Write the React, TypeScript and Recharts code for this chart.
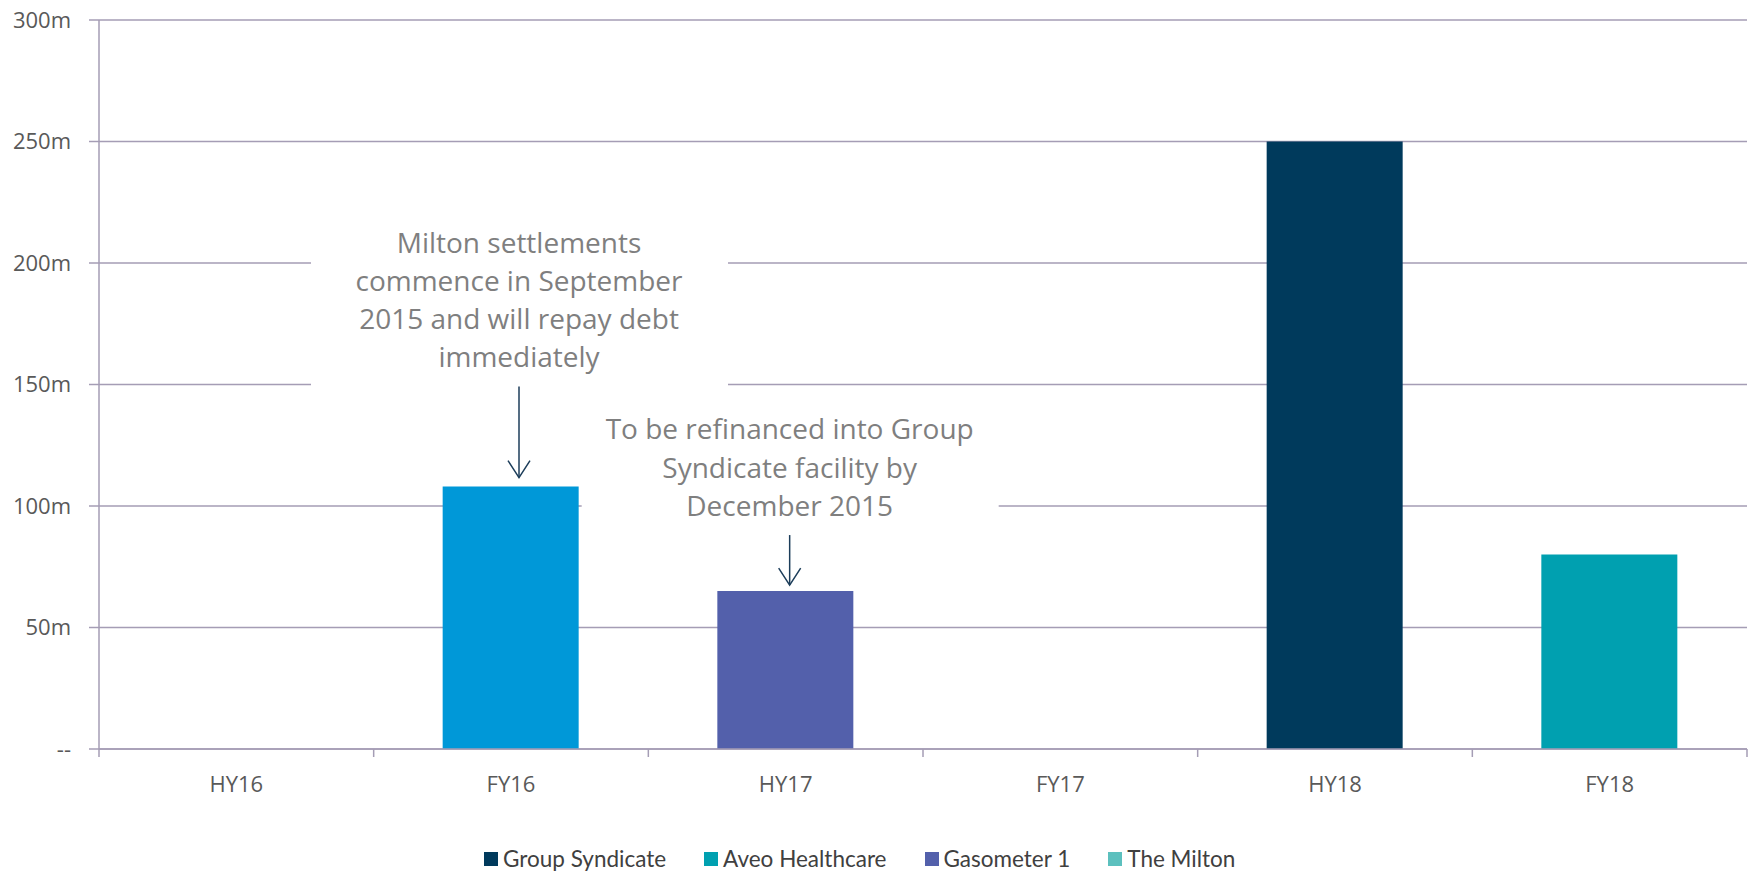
import React from "react";
import {
  Bar,
  BarChart,
  CartesianGrid,
  Cell,
  ReferenceDot,
  XAxis,
  YAxis,
} from "recharts";

const GRID = "#A59DB5";
const TICK_INK = "#595959";
const NOTE_INK = "#7F7F7F";
const ARROW = "#1C3D5A";
const FONT = "'Open Sans', 'Segoe UI', sans-serif";

// periods and the debt maturing in each (A$m)
const periods = ["HY16", "FY16", "HY17", "FY17", "HY18", "FY18"];
const maturing = [0, 108, 65, 0, 250, 80];
const facility = ["", "The Milton", "Gasometer 1", "", "Group Syndicate", "Aveo Healthcare"];

const seriesNames = ["Group Syndicate", "Aveo Healthcare", "Gasometer 1", "The Milton"];
const yTicks = [0, 50, 100, 150, 200, 250, 300];

const miltonNote = ["Milton settlements", "commence in September", "2015 and will repay debt", "immediately"];
const gasometerNote = ["To be refinanced into Group", "Syndicate facility by", "December 2015"];

const LEGEND_COLORS: Record<string, string> = {
  "Group Syndicate": "#003A5C",
  "Aveo Healthcare": "#00A0B0",
  "Gasometer 1": "#5360AB",
  "The Milton": "#5CC0BE",
};
// the Milton bar is drawn in a brighter blue than its legend key in the original
const BAR_COLORS: Record<string, string> = {
  ...LEGEND_COLORS,
  "The Milton": "#0098D8",
};

const data = periods.map((p, i) => ({ period: p, value: maturing[i], facility: facility[i] }));

// category label plus the little tick marks that sit between categories
function PeriodTick(props: any) {
  const { x, y, payload, index, width, visibleTicksCount } = props;
  const count = visibleTicksCount || periods.length;
  const band = (width || 1648) / count;
  const left = x - band / 2;
  const right = x + band / 2;
  return (
    <g>
      <line x1={left} y1={y} x2={left} y2={y + 8} stroke={GRID} strokeWidth={1.5} />
      {index === count - 1 && <line x1={right} y1={y} x2={right} y2={y + 8} stroke={GRID} strokeWidth={1.5} />}
      <text x={x} y={y + 27} dy="0.71em" textAnchor="middle" fontFamily={FONT} fontSize={22} fill={TICK_INK}>
        {payload.value}
      </text>
    </g>
  );
}

type NoteLayout = {
  lines: string[];
  dx: number;
  gap: number;
  arrowLen: number;
  firstBaseline: number;
  lineHeight: number;
  boxTop: number;
  boxBottom: number;
};

function noteShape(n: NoteLayout) {
  return (props: any) => {
    const { cx, cy } = props;
    if (cx == null || cy == null) return <g />;
    const x = cx + n.dx;
    const tip = cy - n.gap;
    return (
      <g>
        <rect x={x - 208} y={cy + n.boxTop} width={417} height={n.boxBottom - n.boxTop} fill="#fff" />
        {n.lines.map((l, i) => (
          <text
            key={l}
            x={x}
            y={cy + n.firstBaseline + i * n.lineHeight}
            textAnchor="middle"
            fontFamily={FONT}
            fontSize={28}
            fill={NOTE_INK}
          >
            {l}
          </text>
        ))}
        <line x1={x} y1={tip - n.arrowLen} x2={x} y2={tip} stroke={ARROW} strokeWidth={1.5} />
        <polyline
          points={`${x - 11},${tip - 17} ${x},${tip} ${x + 11},${tip - 17}`}
          fill="none"
          stroke={ARROW}
          strokeWidth={1.5}
        />
      </g>
    );
  };
}

function LegendRow() {
  return (
    <div
      style={{
        position: "absolute",
        left: 484,
        top: 846,
        display: "flex",
        gap: 38,
        fontFamily: "Lato, sans-serif",
        fontSize: 22.5,
        color: "#404040",
        lineHeight: "26px",
        whiteSpace: "nowrap",
      }}
    >
      {seriesNames.map((s) => (
        <div key={s} style={{ display: "flex", alignItems: "center", gap: 5 }}>
          <span style={{ width: 14, height: 14, background: LEGEND_COLORS[s], display: "inline-block" }} />
          <span>{s}</span>
        </div>
      ))}
    </div>
  );
}

export default function App() {
  return (
    <div style={{ position: "absolute", left: 0, top: 0, width: 1756, height: 873, background: "#fff" }}>
      <BarChart width={1756} height={873} data={data} margin={{ top: 20, right: 9, bottom: 64, left: 0 }}>
        <CartesianGrid vertical={false} stroke={GRID} strokeWidth={1.5} />
        <XAxis
          dataKey="period"
          height={60}
          interval={0}
          axisLine={{ stroke: GRID, strokeWidth: 1.5 }}
          tickLine={false}
          tickSize={0}
          tickMargin={0}
          tick={<PeriodTick />}
        />
        <YAxis
          domain={[0, 300]}
          ticks={yTicks}
          width={99}
          tickSize={10}
          tickMargin={18}
          tickFormatter={(v: number) => (v === 0 ? "--" : `${v}m`)}
          axisLine={{ stroke: GRID, strokeWidth: 1.5 }}
          tickLine={{ stroke: GRID, strokeWidth: 1.5 }}
          tick={{ fontSize: 22, fill: TICK_INK, fontFamily: FONT }}
        />
        <Bar dataKey="value" barSize={136} isAnimationActive={false}>
          {data.map((d) => (
            <Cell key={d.period} fill={BAR_COLORS[d.facility] ?? "transparent"} />
          ))}
        </Bar>
        <ReferenceDot
          x="FY16"
          y={maturing[1]}
          ifOverflow="visible"
          shape={noteShape({
            lines: miltonNote,
            dx: 8,
            gap: 9,
            arrowLen: 91,
            firstBaseline: -234,
            lineHeight: 38,
            boxTop: -267,
            boxBottom: -97,
          })}
        />
        <ReferenceDot
          x="HY17"
          y={maturing[2]}
          ifOverflow="visible"
          shape={noteShape({
            lines: gasometerNote,
            dx: 4,
            gap: 6,
            arrowLen: 50,
            firstBaseline: -152,
            lineHeight: 38.5,
            boxTop: -186,
            boxBottom: -66,
          })}
        />
      </BarChart>
      <LegendRow />
    </div>
  );
}
